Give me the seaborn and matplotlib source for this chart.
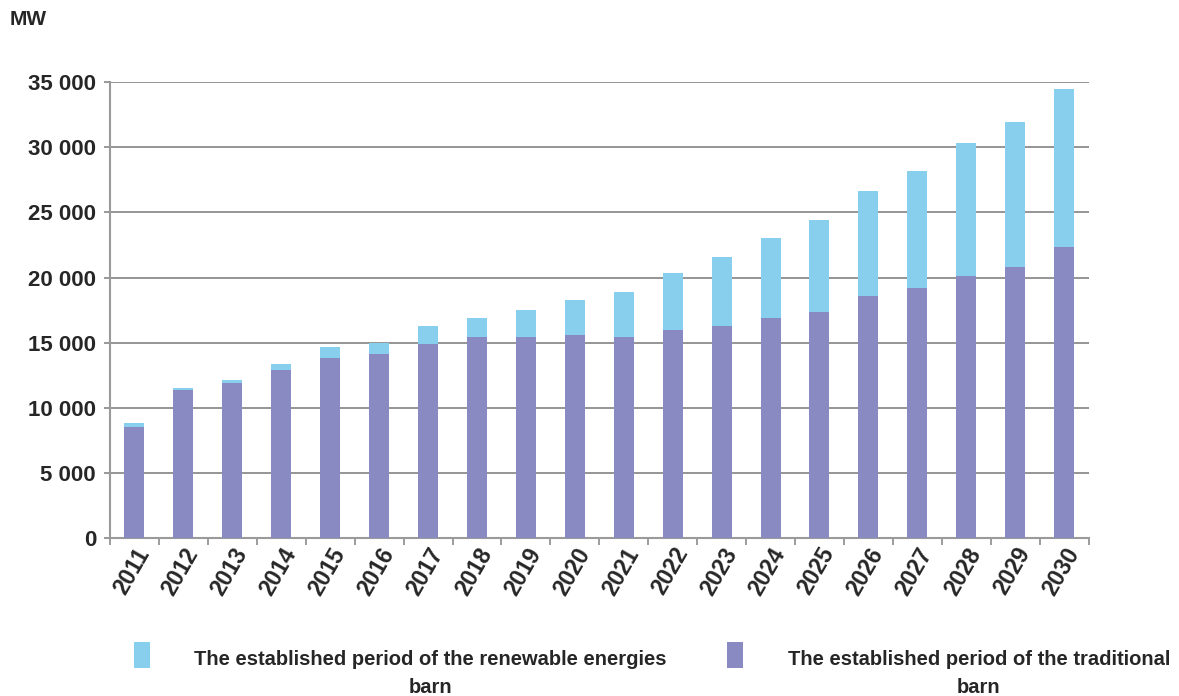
import numpy as np
import pandas as pd
import matplotlib
matplotlib.use("Agg")
import matplotlib.pyplot as plt
import seaborn as sns
from matplotlib.patches import Patch
from matplotlib.ticker import FuncFormatter, FixedLocator

years = [str(y) for y in range(2011, 2031)]
traditional = [8560, 11380, 11900, 12920, 13820, 14130, 14920, 15430, 15430, 15590,
               15440, 16000, 16300, 16900, 17360, 18560, 19180, 20100, 20820, 22330]
total = [8820, 11510, 12150, 13360, 14660, 14970, 16300, 16920, 17540, 18250,
         18870, 20360, 21560, 23050, 24410, 26640, 28180, 30300, 31940, 34510]
renewable = [t - c for t, c in zip(total, traditional)]
y_ticks = [0, 5000, 10000, 15000, 20000, 25000, 30000, 35000]
label_renew = "The established period of the renewable energies\nbarn"
label_trad = "The established period of the traditional\nbarn"

c_renew = "#87CFEC"
c_trad = "#8A8AC2"

sns.set_theme(style="white")
plt.rcParams['font.family'] = ['Liberation Sans', 'DejaVu Sans']

df = pd.DataFrame({"year": years, "traditional": traditional,
                   "total": [r + t for r, t in zip(renewable, traditional)]})

fig = plt.figure(figsize=(11.79, 6.96), dpi=100)
ax = fig.add_axes([0.0933, 0.227, 0.83, 0.655])

sns.barplot(data=df, x="year", y="total", color=c_renew, width=0.41,
            saturation=1, ax=ax, zorder=3, linewidth=0, edgecolor="none")
sns.barplot(data=df, x="year", y="traditional", color=c_trad, width=0.41,
            saturation=1, ax=ax, zorder=3, linewidth=0, edgecolor="none")

ax.set_xlim(-0.5, 19.5)
ax.set_ylim(0, 35000)
ax.set_yticks(y_ticks)
ax.yaxis.set_major_formatter(FuncFormatter(lambda v, p: f"{int(v):,}".replace(",", " ")))
ax.grid(axis="y", color="#8c8c8c", linewidth=1.3, zorder=0)
ax.set_axisbelow(True)
for s in ["top", "right"]:
    ax.spines[s].set_visible(False)
ax.spines["left"].set_color("#9a9a9a")
ax.spines["left"].set_linewidth(1.5)
ax.spines["bottom"].set_color("#9a9a9a")
ax.spines["bottom"].set_linewidth(1.5)
ax.tick_params(axis="y", left=True, length=4, color="#8c8c8c", labelsize=16, pad=6)
ax.tick_params(axis="x", which="major", bottom=False, length=0, labelsize=16.5, pad=4)
ax.xaxis.set_minor_locator(FixedLocator([i - 0.5 for i in range(len(years) + 1)]))
ax.tick_params(axis="x", which="minor", bottom=True, length=5, color="#8c8c8c", width=1.2)
for lbl in ax.get_yticklabels():
    lbl.set_fontweight("bold")
for lbl in ax.get_xticklabels():
    lbl.set_rotation(60)
    lbl.set_ha("right")
    lbl.set_rotation_mode("anchor")
    lbl.set_fontweight("bold")
ax.set_xlabel("")
ax.set_ylabel("")

fig.text(0.008, 0.972, "MW", fontsize=15, fontweight="bold", ha="left", va="center")

handles = [Patch(facecolor=c_renew, edgecolor="none"),
           Patch(facecolor=c_trad, edgecolor="none")]
leg = fig.legend(handles, [label_renew, label_trad], loc="lower center",
                 bbox_to_anchor=(0.553, -0.028), ncol=2, frameon=False,
                 handlelength=0.8, handleheight=1.6, handletextpad=2.2,
                 columnspacing=3.0, prop={"weight": "bold", "size": 14.5})
for t in leg.get_texts():
    t.set_multialignment("center")
    t.set_linespacing(1.6)
for h in leg.legend_handles:
    h.set_y(h.get_y() + 14)

fig.savefig("out.png", dpi=100)
